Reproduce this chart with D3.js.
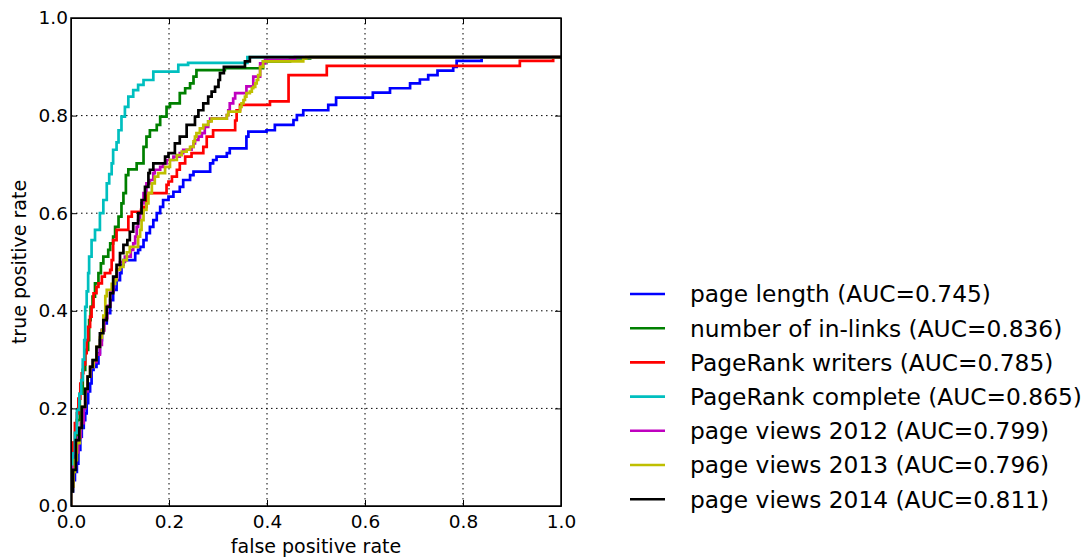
<!DOCTYPE html>
<html>
<head>
<meta charset="utf-8">
<script src="https://cdn.jsdelivr.net/npm/d3@7"></script>
<style>
  body { margin: 0; background: #fff; }
  svg { font-family: "DejaVu Sans", sans-serif; }
  .axis path, .axis line { stroke: #000; }
  .grid line { stroke: #000; stroke-width: 1; stroke-dasharray: 1.5,3.5; }
</style>
</head>
<body>
<div class="roc-container"></div>
<script>
// ROC points [fpr, tpr] (step corners)
const pageLength = [[0,0],[0.004,0.03],[0.008,0.053],[0.012,0.07],[0.015,0.087],[0.019,0.115],[0.022,0.142],[0.026,0.16],[0.029,0.176],[0.032,0.19],[0.035,0.211],[0.039,0.235],[0.042,0.251],[0.046,0.279],[0.052,0.285],[0.056,0.292],[0.059,0.313],[0.063,0.340],[0.066,0.361],[0.073,0.374],[0.080,0.395],[0.086,0.422],[0.093,0.443],[0.100,0.463],[0.103,0.477],[0.107,0.494],[0.131,0.504],[0.137,0.518],[0.141,0.525],[0.148,0.531],[0.154,0.545],[0.161,0.559],[0.168,0.572],[0.175,0.586],[0.182,0.600],[0.188,0.613],[0.199,0.627],[0.209,0.634],[0.222,0.644],[0.229,0.654],[0.243,0.668],[0.250,0.678],[0.284,0.685],[0.290,0.702],[0.297,0.709],[0.318,0.716],[0.324,0.723],[0.358,0.733],[0.362,0.757],[0.399,0.767],[0.416,0.770],[0.454,0.781],[0.461,0.791],[0.474,0.801],[0.525,0.811],[0.541,0.822],[0.616,0.837],[0.651,0.847],[0.692,0.856],[0.712,0.866],[0.729,0.874],[0.748,0.883],[0.780,0.892],[0.787,0.900],[0.838,0.912],[1,0.92]];

const inLinks = [[0,0],[0.006,0.074],[0.012,0.13],[0.018,0.176],[0.024,0.23],[0.029,0.279],[0.035,0.320],[0.037,0.340],[0.040,0.381],[0.044,0.408],[0.049,0.429],[0.056,0.456],[0.061,0.477],[0.066,0.497],[0.076,0.511],[0.080,0.525],[0.086,0.538],[0.090,0.552],[0.097,0.572],[0.103,0.593],[0.107,0.620],[0.112,0.641],[0.117,0.678],[0.134,0.690],[0.148,0.702],[0.154,0.736],[0.161,0.757],[0.175,0.770],[0.182,0.781],[0.195,0.798],[0.202,0.818],[0.222,0.825],[0.233,0.846],[0.243,0.856],[0.250,0.866],[0.256,0.880],[0.314,0.893],[0.392,0.897],[0.447,0.911],[0.488,0.917],[1,0.92]];

const prWriters = [[0,0],[0.004,0.06],[0.008,0.13],[0.012,0.17],[0.015,0.19],[0.019,0.22],[0.022,0.251],[0.025,0.272],[0.029,0.29],[0.032,0.313],[0.035,0.340],[0.039,0.367],[0.042,0.388],[0.046,0.408],[0.052,0.436],[0.056,0.449],[0.063,0.456],[0.069,0.470],[0.080,0.477],[0.083,0.484],[0.086,0.504],[0.093,0.545],[0.117,0.566],[0.124,0.593],[0.143,0.603],[0.148,0.607],[0.154,0.613],[0.195,0.641],[0.199,0.658],[0.206,0.665],[0.216,0.675],[0.222,0.689],[0.233,0.702],[0.246,0.716],[0.270,0.723],[0.277,0.736],[0.290,0.757],[0.297,0.770],[0.335,0.770],[0.338,0.790],[0.345,0.811],[0.352,0.822],[0.406,0.822],[0.444,0.829],[0.522,0.883],[0.916,0.902],[0.984,0.912],[1,0.92]];

const prComplete = [[0,0],[0.004,0.06],[0.008,0.108],[0.012,0.15],[0.017,0.197],[0.021,0.23],[0.024,0.258],[0.027,0.30],[0.029,0.34],[0.032,0.408],[0.035,0.44],[0.037,0.477],[0.042,0.511],[0.049,0.545],[0.059,0.566],[0.066,0.60],[0.073,0.627],[0.078,0.661],[0.083,0.68],[0.086,0.702],[0.093,0.73],[0.097,0.745],[0.103,0.770],[0.110,0.798],[0.117,0.818],[0.127,0.839],[0.137,0.852],[0.148,0.863],[0.168,0.873],[0.178,0.890],[0.219,0.890],[0.239,0.904],[0.360,0.908],[1,0.92]];

const views2012 = [[0,0],[0.005,0.04],[0.010,0.08],[0.015,0.11],[0.020,0.14],[0.026,0.17],[0.029,0.20],[0.034,0.235],[0.040,0.265],[0.046,0.285],[0.052,0.295],[0.059,0.31],[0.063,0.33],[0.068,0.36],[0.074,0.385],[0.080,0.41],[0.087,0.44],[0.094,0.465],[0.100,0.485],[0.110,0.50],[0.122,0.511],[0.127,0.525],[0.131,0.538],[0.134,0.552],[0.137,0.572],[0.141,0.586],[0.144,0.600],[0.148,0.620],[0.154,0.641],[0.161,0.661],[0.168,0.668],[0.171,0.682],[0.182,0.689],[0.188,0.695],[0.195,0.702],[0.209,0.709],[0.222,0.716],[0.229,0.723],[0.246,0.730],[0.250,0.736],[0.253,0.743],[0.260,0.750],[0.267,0.757],[0.273,0.764],[0.280,0.777],[0.284,0.788],[0.318,0.794],[0.321,0.801],[0.324,0.811],[0.331,0.825],[0.335,0.835],[0.358,0.846],[0.372,0.86],[0.386,0.880],[0.396,0.907],[0.457,0.914],[1,0.92]];

const views2013 = [[0,0],[0.005,0.04],[0.008,0.07],[0.012,0.094],[0.018,0.129],[0.022,0.16],[0.029,0.203],[0.034,0.24],[0.039,0.265],[0.046,0.285],[0.052,0.299],[0.059,0.326],[0.063,0.345],[0.066,0.361],[0.070,0.39],[0.073,0.43],[0.083,0.443],[0.090,0.455],[0.093,0.463],[0.100,0.484],[0.107,0.490],[0.114,0.504],[0.120,0.52],[0.137,0.531],[0.141,0.552],[0.144,0.566],[0.148,0.586],[0.154,0.607],[0.158,0.620],[0.165,0.641],[0.171,0.661],[0.178,0.675],[0.192,0.682],[0.202,0.695],[0.216,0.709],[0.226,0.719],[0.236,0.726],[0.243,0.730],[0.250,0.736],[0.253,0.747],[0.256,0.757],[0.263,0.764],[0.270,0.774],[0.280,0.781],[0.287,0.788],[0.318,0.794],[0.321,0.801],[0.345,0.808],[0.348,0.818],[0.352,0.825],[0.355,0.832],[0.358,0.839],[0.365,0.846],[0.369,0.849],[0.372,0.856],[0.376,0.859],[0.379,0.866],[0.382,0.873],[0.386,0.883],[0.392,0.90],[0.474,0.911],[0.480,0.917],[1,0.92]];

const views2014 = [[0,0],[0.004,0.03],[0.010,0.074],[0.017,0.135],[0.022,0.16],[0.029,0.203],[0.034,0.24],[0.039,0.265],[0.044,0.285],[0.052,0.299],[0.059,0.326],[0.066,0.354],[0.073,0.381],[0.080,0.408],[0.086,0.436],[0.093,0.470],[0.100,0.494],[0.107,0.518],[0.115,0.535],[0.120,0.545],[0.127,0.562],[0.137,0.579],[0.144,0.600],[0.151,0.627],[0.158,0.654],[0.161,0.682],[0.168,0.689],[0.192,0.702],[0.199,0.716],[0.212,0.723],[0.222,0.743],[0.236,0.757],[0.253,0.781],[0.260,0.798],[0.270,0.811],[0.280,0.825],[0.287,0.839],[0.294,0.849],[0.301,0.859],[0.304,0.873],[0.312,0.887],[0.355,0.900],[0.365,0.911],[1,0.92]];

const seriesNames = ['page length (AUC=0.745)','number of in-links (AUC=0.836)','PageRank writers (AUC=0.785)','PageRank complete (AUC=0.865)','page views 2012 (AUC=0.799)','page views 2013 (AUC=0.796)','page views 2014 (AUC=0.811)'];
const seriesValues = [pageLength, inLinks, prWriters, prComplete, views2012, views2013, views2014];
const seriesColors = ['#0000ff','#008000','#ff0000','#00bfbf','#bf00bf','#bfbf00','#000000'];
const tickValues = [0, 0.2, 0.4, 0.6, 0.8, 1.0];

const svg_width = 1086;
const svg_height = 557;
const margin = {top:18, left:71};
const chart_width = 490;
const chart_height = 488;

const svg = d3.select('.roc-container').append('svg')
    .attr('width', svg_width).attr('height', svg_height);
const g = svg.append('g').attr('transform', `translate(${margin.left},${margin.top})`);

const xScale = d3.scaleLinear([0,1],[0,chart_width]);
const yScale = d3.scaleLinear([0,1],[chart_height,0]);

// dotted grid
const grid = g.append('g').attr('class','grid');
grid.selectAll('.vx').data(tickValues.slice(1,-1)).enter().append('line')
    .attr('x1', d=>xScale(d)).attr('x2', d=>xScale(d))
    .attr('y1', 0).attr('y2', chart_height);
grid.selectAll('.hy').data(tickValues.slice(1,-1)).enter().append('line')
    .attr('y1', d=>yScale(d)).attr('y2', d=>yScale(d))
    .attr('x1', 0).attr('x2', chart_width);

// curves
const line = d3.line()
    .x(d=>xScale(d[0])).y(d=>yScale(d[1]))
    .curve(d3.curveStepBefore);
g.append('clipPath').attr('id','plot-clip').append('rect')
    .attr('width', chart_width).attr('height', chart_height);
g.append('g').attr('clip-path','url(#plot-clip)')
  .selectAll('.roc').data(seriesValues).enter().append('path')
    .attr('class','roc')
    .attr('d', d=>line(d))
    .attr('fill','none')
    .attr('stroke', (d,i)=>seriesColors[i])
    .attr('stroke-width', 2.7)
    .attr('stroke-linejoin','miter');

// axes, ticks pointing inward on all four sides
const fmt = d3.format('.1f');
const xAxis = d3.axisBottom(xScale).tickValues(tickValues).tickFormat(fmt)
    .tickSizeInner(-6).tickSizeOuter(0).tickPadding(9);
const yAxis = d3.axisLeft(yScale).tickValues(tickValues).tickFormat(fmt)
    .tickSizeInner(-6).tickSizeOuter(0).tickPadding(3);
const xAxisTop = d3.axisTop(xScale).tickValues(tickValues).tickFormat('')
    .tickSizeInner(-6).tickSizeOuter(0);
const yAxisRight = d3.axisRight(yScale).tickValues(tickValues).tickFormat('')
    .tickSizeInner(-6).tickSizeOuter(0);

const xDraw = g.append('g').attr('class','x axis')
    .attr('transform', `translate(0,${chart_height})`).call(xAxis);
const yDraw = g.append('g').attr('class','y axis').call(yAxis);
g.append('g').attr('class','axis').call(xAxisTop);
g.append('g').attr('class','axis').attr('transform', `translate(${chart_width},0)`).call(yAxisRight);

g.selectAll('.axis text').style('font-size','18.5px').style('font-family','"DejaVu Sans"').attr('fill','#000');
g.selectAll('.axis .tick line').attr('stroke-width', 1);

// frame
g.append('rect').attr('width', chart_width).attr('height', chart_height)
    .attr('fill','none').attr('stroke','#000').attr('stroke-width', 1.5);

// axis labels
svg.append('text').text('false positive rate')
    .attr('x', margin.left + chart_width/2).attr('y', 553)
    .attr('text-anchor','middle').style('font-size','19px');
svg.append('text').text('true positive rate')
    .attr('transform', `translate(26,${margin.top + chart_height/2}) rotate(-90)`)
    .attr('text-anchor','middle').style('font-size','19px');

// legend (no frame)
const legend = svg.append('g').attr('class','legend')
    .attr('transform','translate(630,294)');
const items = legend.selectAll('.item').data(seriesNames).enter().append('g')
    .attr('class','item')
    .attr('transform', (d,i)=>`translate(0,${i*34.2})`);
items.append('line').attr('x1',0).attr('x2',35).attr('y1',0).attr('y2',0)
    .attr('stroke', (d,i)=>seriesColors[i]).attr('stroke-width', 2.6);
items.append('text').text(d=>d)
    .attr('x', 60).attr('y', 0).attr('dy','0.36em')
    .style('font-size','23.3px').attr('fill','#000');
</script>
</body>
</html>
